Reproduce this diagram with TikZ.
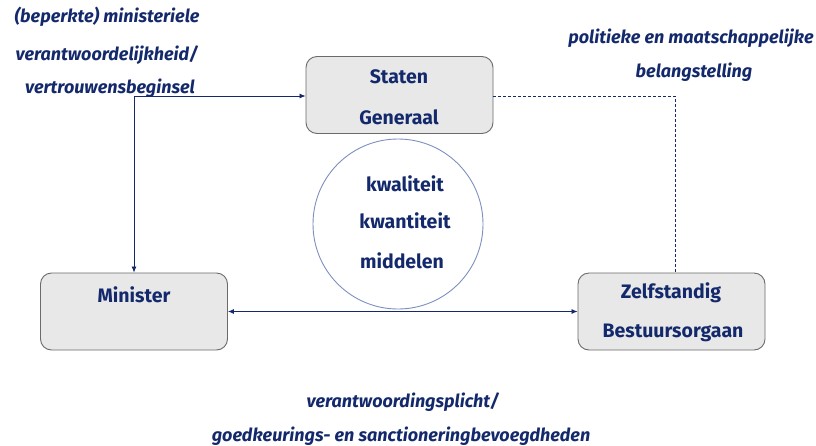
\documentclass[tikz,border=0pt]{standalone}
\usepackage{fontspec}
\setmainfont{Fira Sans}
\usetikzlibrary{arrows.meta}
\definecolor{navy}{HTML}{13296B}
\definecolor{boxfill}{HTML}{E8E8E8}
\definecolor{boxline}{HTML}{6A6A6A}
\definecolor{ringline}{HTML}{7D8FBF}
\tikzset{
  orgbox/.style={draw=boxline, fill=boxfill, line width=0.9pt, rounded corners=11pt,
    minimum width=187pt, minimum height=77pt, inner sep=0pt},
  boxtext/.style={text=navy, font=\fontsize{19.5}{19.5}\selectfont\bfseries},
  note/.style={text=navy, font=\fontsize{18}{18}\selectfont\bfseries\itshape},
  link/.style={draw=navy, line width=0.8pt},
  tip/.style={-{Latex[length=6pt,width=5pt]}}
}
\begin{document}
\begin{tikzpicture}[x=1pt,y=-1pt]
\useasboundingbox (0,0) rectangle (816,445);
% organisations
\node[orgbox] (sg) at (399.5,95) {};
\node[orgbox] (min) at (134,311.5) {};
\node[orgbox] (zbo) at (671.5,311.5) {};
\node[boxtext] at (399,77) {Staten};
\node[boxtext] at (399,117) {Generaal};
\node[boxtext] at (134,295) {Minister};
\node[boxtext] at (671,293) {Zelfstandig};
\node[boxtext] at (673,333) {Bestuursorgaan};
% central circle
\node[draw=ringline, line width=0.9pt, circle, minimum size=170pt, inner sep=0pt] (ring) at (398,224) {};
\node[boxtext] at (405,184) {kwaliteit};
\node[boxtext] at (405,221) {kwantiteit};
\node[boxtext] at (402,261) {middelen};
% connectors
\coordinate (corner) at (134,96);
\coordinate (bend) at (675,96);
\draw[link,tip] (corner) -- (sg.west |- corner);
\draw[link,tip] (corner) -- (min.north);
\draw[link,{Latex[length=6pt,width=5pt]}-{Latex[length=6pt,width=5pt]}] (min.east) -- (zbo.west);
\draw[link,dashed,dash pattern=on 3pt off 2pt, line width=0.6pt] (sg.east |- bend) -- (bend) -- (bend |- zbo.north);
% annotations
\node[note] at (107,17) {(beperkte) ministeriele};
\node[note] at (107,55) {verantwoordelijkheid/};
\node[note] at (110,88) {vertrouwensbeginsel};
\node[note] at (691,38) {politieke en maatschappelijke};
\node[note] at (694,72) {belangstelling};
\node[note] at (403,402) {verantwoordingsplicht/};
\node[note] at (401,436) {goedkeurings- en sanctioneringbevoegdheden};
\end{tikzpicture}
\end{document}
